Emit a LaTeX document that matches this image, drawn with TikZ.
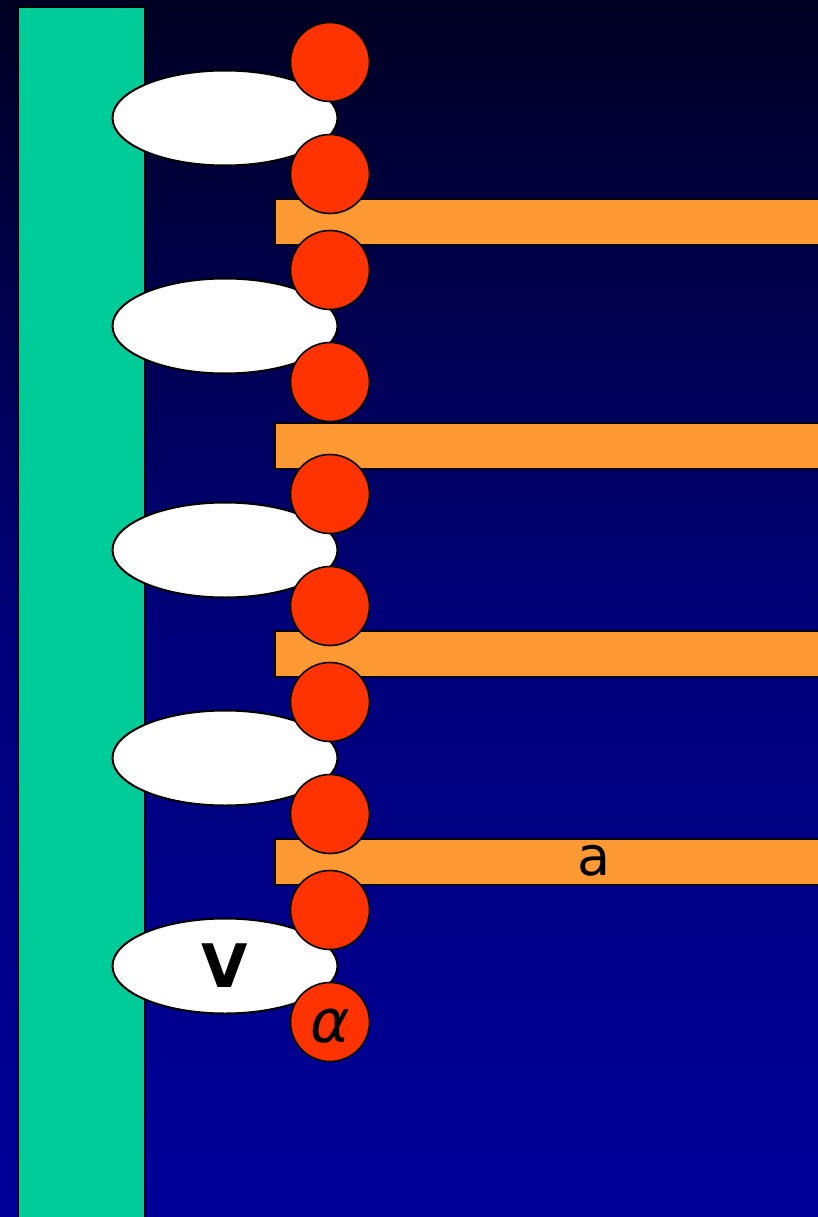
\documentclass[tikz,border=0pt]{standalone}
\usepackage{fontspec}
\setmainfont{DejaVu Sans}
\usetikzlibrary{shapes.geometric}
\begin{document}
\begin{tikzpicture}[x=1pt,y=-1pt,
  greenbar/.style={draw=black,line width=2pt,fill={rgb,255:red,0;green,204;blue,153}},
  blob/.style={draw=black,line width=2pt,fill=white,ellipse,minimum width=225pt,minimum height=95pt,inner sep=0pt},
  ball/.style={draw=black,line width=1.6pt,fill={rgb,255:red,255;green,51;blue,0},circle,minimum size=79pt,inner sep=0pt},
  band/.style={draw=black,line width=1.6pt,fill={rgb,255:red,255;green,153;blue,51}},
  lbl/.style={font=\fontsize{52}{52}\selectfont}]
\definecolor{bgtop}{RGB}{0,0,34}
\definecolor{bgbot}{RGB}{0,0,153}
\useasboundingbox (0,0) rectangle (818,1217);
\shade[top color=bgtop,bottom color=bgbot,middle color={rgb,255:red,0;green,0;blue,120}] (0,0) rectangle (818,1217);
\path[greenbar] (18,7) rectangle (145,1230);
% ellipses
\node[blob] (e1) at (225,118) {};
\node[blob] (e2) at (225,326) {};
\node[blob] (e3) at (225,550) {};
\node[blob] (e4) at (225,758) {};
\node[blob] (e5) at (225,966) {};
\node[lbl,font=\fontsize{60}{60}\selectfont\bfseries] (tv) at (e5.center) {V};
% bands
\path[band] (275,199) rectangle (830,245);
\path[band] (275,423) rectangle (830,469);
\path[band] (275,631) rectangle (830,677);
\path[band] (275,839) rectangle (830,885);
\node[lbl,font=\fontsize{54}{54}\selectfont] (ta) at (594,861) {a};
% balls
\node[ball] (c1) at (330,62) {};
\node[ball] (c2) at (330,174) {};
\node[ball] (c3) at (330,270) {};
\node[ball] (c4) at (330,382) {};
\node[ball] (c5) at (330,494) {};
\node[ball] (c6) at (330,606) {};
\node[ball] (c7) at (330,702) {};
\node[ball] (c8) at (330,814) {};
\node[ball] (c9) at (330,910) {};
\node[ball] (c10) at (330,1022) {};
\node[font=\fontsize{60}{60}\selectfont\itshape] (talpha) at (330,1026) {α};
\end{tikzpicture}
\end{document}
